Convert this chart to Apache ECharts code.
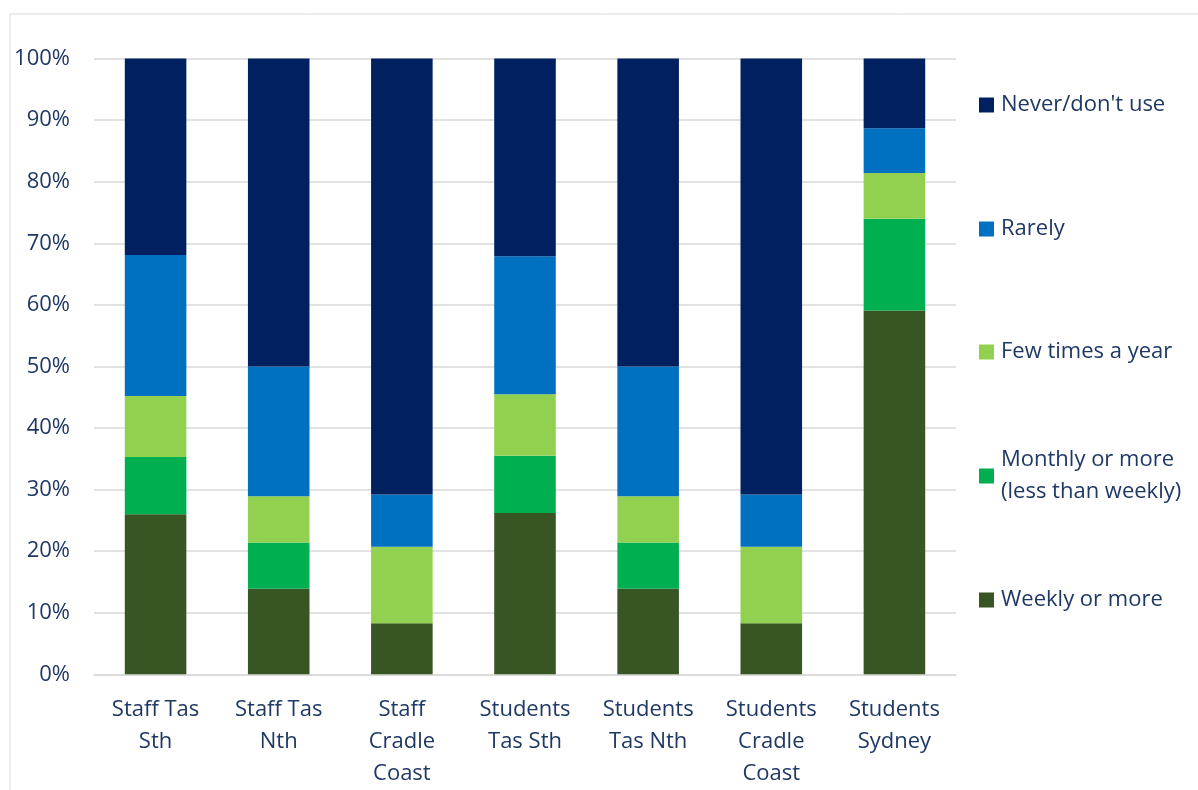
<!DOCTYPE html>
<html>
<head>
<meta charset="utf-8">
<script src="https://cdn.jsdelivr.net/npm/echarts@6/dist/echarts.min.js"></script>
<style>
  html, body { margin: 0; padding: 0; background: #ffffff; }
  #chart { width: 1198px; height: 790px; }
</style>
</head>
<body>
<div id="chart"></div>
<script>
// Groups surveyed (x-axis)
const categories = [
  'Staff Tas\nSth',
  'Staff Tas\nNth',
  'Staff\nCradle\nCoast',
  'Students\nTas Sth',
  'Students\nTas Nth',
  'Students\nCradle\nCoast',
  'Students\nSydney'
];

// Share of respondents (%) per frequency band, stacked bottom to top
const weeklyOrMore   = [26.0, 13.9, 8.3, 26.2, 13.9, 8.3, 59.1];
const monthlyOrMore  = [9.3, 7.5, 0.0, 9.3, 7.5, 0.0, 14.9];
const fewTimesAYear  = [9.9, 7.5, 12.4, 10.0, 7.5, 12.4, 7.4];
const rarely         = [22.9, 21.1, 8.5, 22.4, 21.1, 8.5, 7.3];
const neverDontUse   = [31.9, 50.0, 70.8, 32.1, 50.0, 70.8, 11.3];

const seriesNames = [
  'Weekly or more',
  'Monthly or more\n(less than weekly)',
  'Few times a year',
  'Rarely',
  "Never/don't use"
];
const seriesValues = [weeklyOrMore, monthlyOrMore, fewTimesAYear, rarely, neverDontUse];
const seriesColors = ['#375623', '#00B050', '#92D050', '#0070C0', '#002060'];

const textColor = '#1F3864';
const fontFamily = '"Open Sans", Lato, sans-serif';
const fontSize = 22;

const chart = echarts.init(document.getElementById('chart'), null, { renderer: 'canvas' });

// One legend block per series so each entry sits at its own height
const legendCenters = [600, 476, 352, 229, 105];
const legends = seriesNames.map((name, i) => {
  const multi = name.indexOf('\n') >= 0;
  return {
    data: [name],
    left: 979,
    top: multi ? legendCenters[i] - 48 : legendCenters[i] - 14,
    orient: 'vertical',
    padding: 0,
    itemWidth: 15,
    itemHeight: 15,
    itemGap: 0,
    selectedMode: false,
    icon: 'rect',
    textStyle: {
      color: textColor,
      fontSize: fontSize,
      fontFamily: fontFamily,
      lineHeight: multi ? 32 : 28,
      padding: multi ? [32, 0, 0, 2] : [0, 0, 0, 2]
    }
  };
});

const series = seriesNames.map((name, i) => ({
  name: name,
  type: 'bar',
  stack: 'total',
  data: seriesValues[i],
  barCategoryGap: '50%',
  itemStyle: { color: seriesColors[i] },
  emphasis: { disabled: true }
}));

chart.setOption({
  animation: false,
  backgroundColor: '#ffffff',
  graphic: [{
    type: 'rect',
    shape: { x: 10, y: 14, width: 1200, height: 800 },
    style: { fill: 'none', stroke: '#D9D9D9', lineWidth: 1 },
    silent: true,
    z: -1
  }],
  grid: {
    left: 94,
    right: 242,
    top: 58.6,
    bottom: 115.7,
    containLabel: false
  },
  legend: legends,
  xAxis: {
    type: 'category',
    data: categories,
    axisLine: { show: true, lineStyle: { color: '#D9D9D9', width: 1.5 } },
    axisTick: { show: false },
    axisLabel: {
      color: textColor,
      fontSize: fontSize,
      fontFamily: fontFamily,
      lineHeight: 32,
      margin: 19,
      interval: 0
    }
  },
  yAxis: {
    type: 'value',
    min: 0,
    max: 100,
    interval: 10,
    axisLine: { show: false },
    axisTick: { show: false },
    splitLine: { lineStyle: { color: '#D9D9D9', width: 1.5 } },
    axisLabel: {
      color: textColor,
      fontSize: fontSize,
      fontFamily: fontFamily,
      margin: 24,
      formatter: '{value}%'
    }
  },
  series: series
});
</script>
</body>
</html>
